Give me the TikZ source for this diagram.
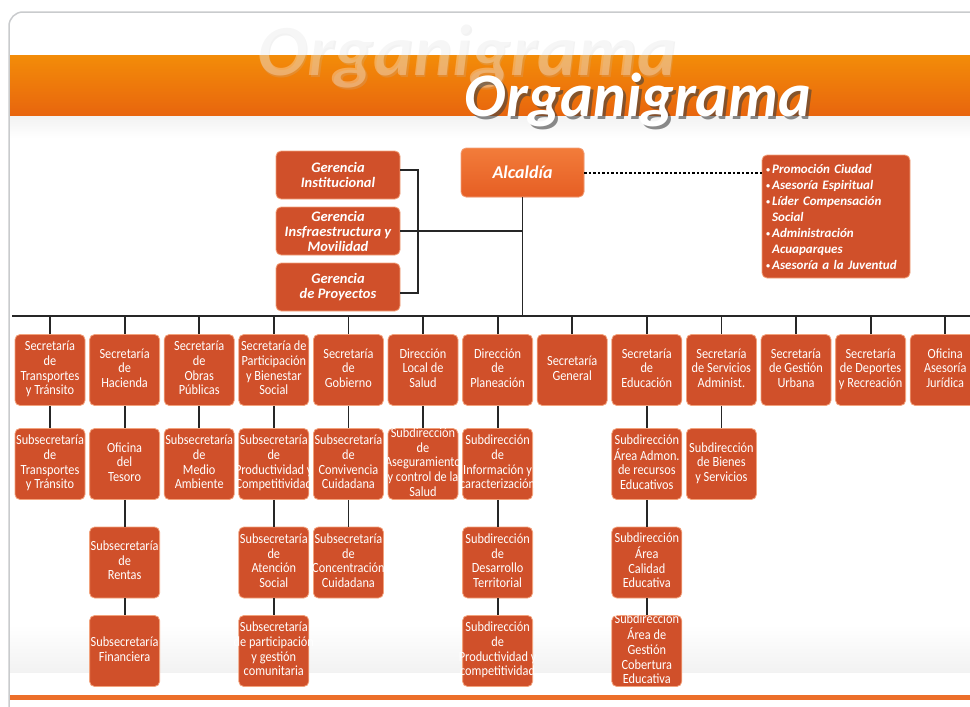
\documentclass[tikz,border=0pt]{standalone}
\usepackage{fontspec}
\setmainfont{Carlito}
\newfontfamily\boxfont{Carlito}[FakeStretch=0.88]
\definecolor{boxred}{HTML}{D0502A}
\definecolor{boxedge}{HTML}{F2A27C}
\definecolor{alctop}{HTML}{F27C3A}
\definecolor{alcbot}{HTML}{E65E24}
\definecolor{bandtop}{HTML}{F38C08}
\definecolor{bandbot}{HTML}{E8650E}
\definecolor{framegray}{HTML}{C9CBCD}
\definecolor{footline}{HTML}{EC6F2A}
\tikzstyle{unit}     = [fill=boxred, draw=boxedge, line width=0.8pt, rounded corners=5pt, text=white,
                        minimum width=70pt, minimum height=71pt, inner sep=0pt, align=center,
                        font=\boxfont\fontsize{14}{14.6}\selectfont]
\tikzstyle{gerencia} = [unit, minimum width=124pt, minimum height=48pt, font=\fontsize{14.5}{15}\selectfont\bfseries\itshape]
\tikzstyle{link}     = [line width=1.8pt, black!85]
\tikzstyle{headline} = [anchor=base, font=\fontsize{62}{62}\selectfont\bfseries\itshape]
\def\boxtext#1{\makebox[0pt]{\raisebox{-3.5pt}[0pt][0pt]{\begin{tabular}{@{}c@{}}#1\end{tabular}}}}
\def\bul{{\fontsize{8}{8}\selectfont\raisebox{1pt}{•}}\,}

\begin{document}
\begin{tikzpicture}[x=1pt,y=-1pt]
  \useasboundingbox (0,0) rectangle (970,707);
  % frame and header band
  \draw[framegray, line width=1.5pt, rounded corners=14pt] (9,720) -- (9,12) -- (990,12);
  \shade[top color=bandtop, bottom color=bandbot] (10,55) rectangle (970,116);
  \shade[top color=gray!10, bottom color=white] (10,116) rectangle (970,138);
  \shade[top color=white, bottom color=gray!10] (10,625) rectangle (970,672);
  \fill[footline] (10,695) rectangle (970,700);
  \node[headline, font=\fontsize{75}{75}\selectfont\bfseries\itshape, text=black!25, opacity=0.2] (markshadow) at (468.5,77) {Organigrama};
  \node[headline, font=\fontsize{75}{75}\selectfont\bfseries\itshape, text=white, opacity=0.3] (mark) at (467,75.5) {Organigrama};
  \node[headline, text=black!75, opacity=0.6] (titleshadow) at (641,119) {Organigrama};
  \node[headline, text=white] (title) at (638,116) {Organigrama};

  % top level
  \node[unit, top color=alctop, bottom color=alcbot, minimum width=123pt, minimum height=49pt,
        font=\fontsize{18}{18}\selectfont\bfseries\itshape] (alcaldia) at (522.5,172.5) {Alcaldía};
  \node[gerencia] (gerInst)  at (338,175) {Gerencia\\Institucional};
  \node[gerencia] (gerInfra) at (338,231) {Gerencia\\Insfraestructura y\\Movilidad};
  \node[gerencia] (gerProy)  at (338,287) {Gerencia\\de Proyectos};
  \node[unit, align=left, text width=140pt, minimum width=148pt, minimum height=123pt,
        font=\fontsize{13}{16}\selectfont\bfseries\itshape] (asesores) at (836,216.5)
    {\bul Promoción Ciudad\\\bul Asesoría Espiritual\\\bul Líder Compensación\\\phantom{\bul}Social\\%
     \bul Administración\\\phantom{\bul}Acuaparques\\\bul Asesoría a la Juventud};

  \coordinate (gbar) at (418,0);
  \coordinate (busL) at (12,316);
  \coordinate (busR) at (970,316);
  \coordinate (row2) at (0,464);
  \coordinate (row3) at (0,562.5);
  \coordinate (row4) at (0,651);

  \draw[link] ([yshift=5pt]gerInst.east) -- ([yshift=5pt]gerInst.east -| gbar)
              -- ([yshift=-6pt]gerProy.east -| gbar) -- ([yshift=-6pt]gerProy.east);
  \draw[link] (gerInfra.east) -- (gerInfra.east -| alcaldia.south);
  \draw[link] (alcaldia.south) -- (alcaldia.south |- busL);
  \draw[link] (busL) -- (busR);
  \draw[line width=2pt, dash pattern=on 2.5pt off 2pt] (alcaldia.east) -- (alcaldia.east -| asesores.west);

  % secretarias
  \foreach \i/\name/\txt in {
      1/secTrans/{Secretaría\\de\\Transportes\\y Tránsito},
      2/secHac/{Secretaría\\de\\Hacienda},
      3/secObras/{Secretaría\\de\\Obras\\Públicas},
      4/secPart/{Secretaría de\\Participación\\y Bienestar\\Social},
      5/secGob/{Secretaría\\de\\Gobierno},
      6/dirSalud/{Dirección\\Local de\\Salud},
      7/dirPlan/{Dirección\\de\\Planeación},
      8/secGen/{Secretaría\\General},
      9/secEdu/{Secretaría\\de\\Educación},
      10/secServ/{Secretaría\\de Servicios\\Administ.},
      11/secUrb/{Secretaría\\de Gestión\\Urbana},
      12/secDep/{Secretaría\\de Deportes\\y Recreación},
      13/ofJur/{Oficina\\Asesoría\\Jurídica}}
  {
    \node[unit] (\name) at ({50+74.6*(\i-1)},370) {\boxtext{\txt}};
    \draw[link] (\name.north) -- (\name.north |- busL);
  }

  % second level
  \foreach \up/\name/\txt in {
      secTrans/subTrans/{Subsecretaría\\de\\Transportes\\y Tránsito},
      secHac/ofTes/{Oficina\\del\\Tesoro},
      secObras/subMedio/{Subsecretaría\\de\\Medio\\Ambiente},
      secPart/subProd/{Subsecretaría\\de\\Productividad y\\Competitividad},
      secGob/subConv/{Subsecretaría\\de\\Convivencia\\Cuidadana},
      dirSalud/subAseg/{Subdirección\\de\\Aseguramiento\\y control de la\\Salud},
      dirPlan/subInfo/{Subdirección\\de\\Información y\\caracterización},
      secEdu/subAdmon/{Subdirección\\Área Admon.\\de recursos\\Educativos},
      secServ/subBienes/{Subdirección\\de Bienes\\y Servicios}}
  {
    \node[unit] (\name) at (\up |- row2) {\boxtext{\txt}};
    \draw[link] (\up.south) -- (\name.north);
  }

  % third level
  \foreach \up/\name/\txt in {
      ofTes/subRentas/{Subsecretaría\\de\\Rentas},
      subProd/subAtencion/{Subsecretaría\\de\\Atención\\Social},
      subConv/subConc/{Subsecretaría\\de\\Concentración\\Cuidadana},
      subInfo/subDesa/{Subdirección\\de\\Desarrollo\\Territorial},
      subAdmon/subCalidad/{Subdirección\\Área\\Calidad\\Educativa}}
  {
    \node[unit] (\name) at (\up |- row3) {\boxtext{\txt}};
    \draw[link] (\up.south) -- (\name.north);
  }

  % fourth level
  \foreach \up/\name/\txt in {
      subRentas/subFin/{Subsecretaría\\Financiera},
      subAtencion/subGestion/{Subsecretaría\\de participación\\y gestión\\comunitaria},
      subDesa/subProdComp/{Subdirección\\de\\Productividad y\\competitividad},
      subCalidad/subCobertura/{Subdirección\\Área de\\Gestión\\Cobertura\\Educativa}}
  {
    \node[unit] (\name) at (\up |- row4) {\boxtext{\txt}};
    \draw[link] (\up.south) -- (\name.north);
  }
\end{tikzpicture}
\end{document}
